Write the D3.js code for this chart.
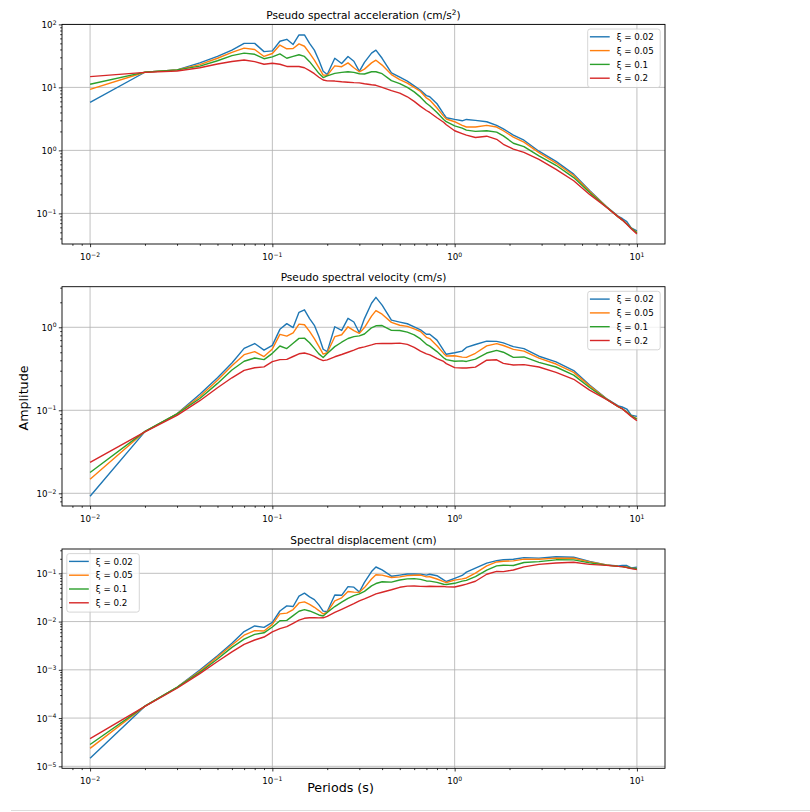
<!DOCTYPE html>
<html>
<head>
<meta charset="utf-8">
<script src="https://cdn.jsdelivr.net/npm/d3@7"></script>
<style>
  body { margin: 0; background: #fff; }
  text { font-family: "DejaVu Sans", sans-serif; fill: #000; }
</style>
</head>
<body>
<script>
// ---------------- DATA ----------------
const periods = [0.01,0.02,0.03,0.04,0.05,0.06,0.07,0.08,0.09,0.10,
  0.11,0.12,0.13,0.14,0.15,0.16,0.17,0.18,0.19,0.20,
  0.22,0.24,0.26,0.28,0.30,
  0.32,0.35,0.37,0.40,0.45,
  0.50,0.55,0.60,0.65,0.70,0.73,0.80,0.87,0.90,1.0,
  1.1,1.16,1.3,1.5,1.7,1.85,2.1,2.4,2.9,3.6,
  4.5,5.5,6.8,7.9,8.3,8.8,9.3,10];

const dampingLabels = ["ξ = 0.02", "ξ = 0.05", "ξ = 0.1", "ξ = 0.2"];
const seriesColors = ["#1f77b4", "#ff7f0e", "#2ca02c", "#d62728"];

// Pseudo spectral acceleration (cm/s^2)
const psa002 = [5.8,17.4,19.0,24.5,31,39,50,50,37,38,
  54,58,48,68,68,50,39,27,18,16,
  29,24,31,26,18,
  25,35,39,29,17,
  14.5,12.6,10.6,9.0,7.4,7.1,5.5,3.8,3.3,3.1,
  2.95,3.1,3.0,2.85,2.5,2.2,1.75,1.45,0.97,0.67,
  0.42,0.23,0.128,0.090,0.083,0.074,0.059,0.053];
const psa005 = [9.3,17.4,19.0,23.0,29,36,42,40,31,34.5,
  47,41,41.5,49,45,35,27,20.6,15.7,15.5,
  22,21.3,24.5,20.5,17.7,
  19.5,24.5,27,22.6,16,
  13.3,11.7,10.0,8.6,6.8,6.3,4.7,3.5,3.15,2.85,
  2.5,2.35,2.35,2.5,2.35,2.05,1.62,1.35,0.92,0.63,
  0.40,0.225,0.127,0.088,0.079,0.068,0.058,0.050];
const psa01 = [11.2,17.5,19.0,21.8,26.5,32,35,33.5,28.5,30.5,
  34,29,31,33,31,25.6,20.6,16.7,14.3,15.2,
  16.7,17.3,17.7,17.3,16.5,
  16.3,17.7,17.7,16.5,12.8,
  11.5,10.0,8.5,7.0,5.6,5.1,4.0,3.1,2.85,2.45,
  2.25,2.1,2.0,2.05,1.95,1.7,1.3,1.15,0.82,0.58,
  0.37,0.215,0.126,0.088,0.079,0.068,0.058,0.049];
const psa02 = [14.8,17.3,18.2,20.5,23.5,25.8,27.2,25.6,23.3,24.2,
  23.3,21.5,21.5,21.5,20.5,18.5,16.5,14.5,13.1,12.7,
  12.6,12.3,12.1,11.9,11.8,
  11.4,11.0,10.8,10.0,8.9,
  8.1,7.1,6.0,5.0,4.3,4.0,3.3,2.8,2.55,2.05,
  1.85,1.75,1.6,1.68,1.5,1.25,1.05,0.93,0.72,0.50,
  0.33,0.20,0.125,0.088,0.079,0.067,0.057,0.047];

// Pseudo spectral velocity (cm/s)
const psv002 = [0.00923,0.0554,0.0907,0.156,0.247,0.372,0.557,0.637,0.530,0.605,
  0.945,1.108,0.993,1.515,1.623,1.273,1.055,0.774,0.544,0.509,
  1.015,0.917,1.283,1.159,0.859,
  1.273,1.950,2.297,1.846,1.218,
  1.154,1.103,1.012,0.931,0.824,0.825,0.700,0.526,0.473,0.493,
  0.516,0.572,0.621,0.680,0.676,0.648,0.585,0.554,0.448,0.384,
  0.301,0.201,0.1385,0.1132,0.1096,0.1036,0.0873,0.0844];
const psv005 = [0.0148,0.0554,0.0907,0.1464,0.2308,0.3438,0.4679,0.5093,0.4440,0.5491,
  0.8228,0.7831,0.8586,1.0918,1.0743,0.8913,0.7305,0.5902,0.4748,0.4934,
  0.7703,0.8136,1.0138,0.9135,0.8451,
  0.9931,1.3648,1.5900,1.4388,1.1459,
  1.0584,1.0242,0.9549,0.8897,0.7576,0.7319,0.5984,0.4846,0.4512,0.4536,
  0.4377,0.4339,0.4862,0.5968,0.6358,0.6036,0.5415,0.5157,0.4246,0.3610,
  0.2865,0.1970,0.1375,0.1106,0.1044,0.0952,0.0859,0.0796];
const psv01 = [0.01783,0.0557,0.0907,0.1388,0.2109,0.3056,0.3899,0.4265,0.4082,0.4854,
  0.5952,0.5539,0.6414,0.7353,0.7401,0.6519,0.5574,0.4784,0.4324,0.4838,
  0.5847,0.6608,0.7324,0.7709,0.7878,
  0.8302,0.9860,1.0423,1.0504,0.9167,
  0.9151,0.8754,0.8117,0.7242,0.6239,0.5925,0.5093,0.4292,0.4082,0.3899,
  0.3939,0.3877,0.4138,0.4894,0.5276,0.5005,0.4345,0.4393,0.3785,0.3323,
  0.2650,0.1882,0.1364,0.1106,0.1044,0.0952,0.0859,0.0780];
const psv02 = [0.02355,0.05507,0.0869,0.1305,0.1870,0.2464,0.3030,0.3259,0.3338,0.3851,
  0.4079,0.4106,0.4448,0.4791,0.4894,0.4711,0.4464,0.4154,0.3961,0.4043,
  0.4412,0.4698,0.5007,0.5303,0.5634,
  0.5806,0.6127,0.6360,0.6366,0.6374,
  0.6446,0.6215,0.5730,0.5173,0.4791,0.4647,0.4202,0.3877,0.3653,0.3263,
  0.3239,0.3231,0.3310,0.4011,0.4058,0.3680,0.3509,0.3552,0.3323,0.2865,
  0.2364,0.1751,0.1353,0.1106,0.1044,0.0938,0.0844,0.0748];

// Spectral displacement (cm)
const sd002 = [1.47e-5,1.76e-4,4.33e-4,9.93e-4,1.96e-3,3.56e-3,6.21e-3,8.11e-3,7.59e-3,9.63e-3,
  0.01655,0.02116,0.02055,0.03376,0.03876,0.03242,0.02855,0.02216,0.01646,0.01621,
  0.03555,0.03502,0.05308,0.05163,0.04103,
  0.06485,0.1086,0.1352,0.1175,0.0872,
  0.0918,0.0966,0.0967,0.0963,0.0918,0.0958,0.0892,0.0729,0.0677,0.0785,
  0.0904,0.1057,0.1284,0.1624,0.1830,0.1907,0.1955,0.2116,0.2066,0.2200,
  0.2154,0.1762,0.1499,0.1423,0.1448,0.1451,0.1292,0.1342];
const sd005 = [2.36e-5,1.76e-4,4.33e-4,9.32e-4,1.84e-3,3.28e-3,5.21e-3,6.48e-3,6.36e-3,8.74e-3,
  0.01441,0.01496,0.01777,0.02433,0.02565,0.02270,0.01977,0.01691,0.01436,0.01571,
  0.02697,0.03108,0.04195,0.04071,0.04035,
  0.05058,0.07602,0.09363,0.09159,0.08207,
  0.08422,0.08965,0.09119,0.09204,0.08440,0.08504,0.07619,0.06710,0.06463,0.07219,
  0.07663,0.08010,0.1006,0.1425,0.1720,0.1777,0.1810,0.1970,0.1960,0.2068,
  0.2052,0.1724,0.1488,0.1391,0.1379,0.1334,0.1271,0.1267];
const sd01 = [2.84e-5,1.77e-4,4.33e-4,8.84e-4,1.68e-3,2.92e-3,4.34e-3,5.43e-3,5.85e-3,7.73e-3,
  0.01042,0.01058,0.01327,0.01638,0.01767,0.01660,0.01508,0.01371,0.01308,0.01540,
  0.02047,0.02524,0.03031,0.03436,0.03762,
  0.04228,0.05492,0.06138,0.06687,0.06566,
  0.07282,0.07662,0.07751,0.07491,0.06951,0.06884,0.06484,0.05943,0.05848,0.06206,
  0.06896,0.07158,0.08562,0.1168,0.1427,0.1474,0.1452,0.1678,0.1747,0.1904,
  0.1898,0.1647,0.1476,0.1391,0.1379,0.1334,0.1271,0.1241];
const sd02 = [3.75e-5,1.75e-4,4.15e-4,8.31e-4,1.49e-3,2.35e-3,3.38e-3,4.15e-3,4.78e-3,6.13e-3,
  7.14e-3,7.84e-3,9.20e-3,0.01067,0.01168,0.01200,0.01208,0.01190,0.01198,0.01287,
  0.01545,0.01795,0.02072,0.02363,0.02690,
  0.02957,0.03413,0.03745,0.04053,0.04565,
  0.05129,0.05440,0.05471,0.05351,0.05337,0.05399,0.05350,0.05368,0.05232,0.05192,
  0.05670,0.05965,0.06849,0.09575,0.1098,0.1084,0.1173,0.1357,0.1534,0.1641,
  0.1693,0.1532,0.1464,0.1391,0.1379,0.1314,0.1249,0.1190];

// tick values (decades)
const xTickValues = [0.01, 0.1, 1, 10];
const yTickValues1 = [0.1, 1, 10, 100];
const yTickValues2 = [0.01, 0.1, 1];
const yTickValues3 = [1e-5, 1e-4, 1e-3, 1e-2, 1e-1];

const titles = ["Pseudo spectral acceleration (cm/s", "Pseudo spectral velocity (cm/s)", "Spectral displacement (cm)"];
const yLabelText = "Amplitude";
const xLabelText = "Periods (s)";

// ---------------- LAYOUT ----------------
const W = 810, H = 812;
const L = 62, R = 665;
const panels = [
  { title: titles[0], sup: "2", top: 24.4, bottom: 244, ydom: [Math.pow(10,-1.486), 100], yticks: yTickValues1,
    series: [psa002, psa005, psa01, psa02], legend: "right" },
  { title: titles[1], top: 286.7, bottom: 506, ydom: [Math.pow(10,-2.153), Math.pow(10,0.489)], yticks: yTickValues2,
    series: [psv002, psv005, psv01, psv02], legend: "right" },
  { title: titles[2], top: 549, bottom: 768.3, ydom: [Math.pow(10,-5.041), Math.pow(10,-0.496)], yticks: yTickValues3,
    series: [sd002, sd005, sd01, sd02], legend: "left" }
];

const svg = d3.select("body").append("svg").attr("width", W).attr("height", H);
svg.append("rect").attr("width", W).attr("height", H).attr("fill", "#fff");

const x = d3.scaleLog().domain([Math.pow(10,-2.154), Math.pow(10,1.154)]).range([L, R]);

function minorTicks(scale) {
  const [a, b] = scale.domain();
  const out = [];
  for (let e = Math.floor(Math.log10(a)); e <= Math.ceil(Math.log10(b)); e++) {
    for (let m = 2; m <= 9; m++) {
      const v = m * Math.pow(10, e);
      if (v >= a && v <= b) out.push(v);
    }
  }
  return out;
}
function expOf(v) { return Math.round(Math.log10(v)); }
function fmtExp(e) { return (e < 0 ? "\u2212" : "") + Math.abs(e); }

const FS = 8.7;

panels.forEach((p, pi) => {
  const y = d3.scaleLog().domain(p.ydom).range([p.bottom, p.top]);
  const g = svg.append("g");

  // grid
  const gx = g.append("g");
  xTickValues.forEach(v => {
    gx.append("line").attr("x1", x(v)).attr("x2", x(v)).attr("y1", p.top).attr("y2", p.bottom)
      .attr("stroke", "#b0b0b0").attr("stroke-width", 0.8);
  });
  p.yticks.forEach(v => {
    gx.append("line").attr("x1", L).attr("x2", R).attr("y1", y(v)).attr("y2", y(v))
      .attr("stroke", "#b0b0b0").attr("stroke-width", 0.8);
  });

  // lines
  const clipId = "clip" + pi;
  svg.append("clipPath").attr("id", clipId).append("rect")
    .attr("x", L).attr("y", p.top).attr("width", R - L).attr("height", p.bottom - p.top);
  const line = d3.line().x(d => x(d[0])).y(d => y(d[1]));
  p.series.forEach((s, si) => {
    g.append("path").datum(periods.map((t, i) => [t, s[i]]))
      .attr("d", line).attr("fill", "none").attr("stroke", seriesColors[si])
      .attr("stroke-width", 1.4).attr("stroke-linejoin", "round").attr("clip-path", `url(#${clipId})`);
  });

  // axes ticks
  const axB = g.append("g").attr("transform", `translate(0,${p.bottom})`)
    .call(d3.axisBottom(x).tickValues(xTickValues).tickSize(3.2).tickFormat(""));
  axB.select(".domain").remove();
  const axBm = g.append("g").attr("transform", `translate(0,${p.bottom})`)
    .call(d3.axisBottom(x).tickValues(minorTicks(x)).tickSize(1.8).tickFormat(""));
  axBm.select(".domain").remove();
  const axL = g.append("g").attr("transform", `translate(${L},0)`)
    .call(d3.axisLeft(y).tickValues(p.yticks).tickSize(3.2).tickFormat(""));
  axL.select(".domain").remove();
  const axLm = g.append("g").attr("transform", `translate(${L},0)`)
    .call(d3.axisLeft(y).tickValues(minorTicks(y)).tickSize(1.8).tickFormat(""));
  axLm.select(".domain").remove();
  g.selectAll(".tick line").attr("stroke", "#000").attr("stroke-width", 0.8);

  // tick labels
  xTickValues.forEach(v => {
    const t = g.append("text").attr("x", x(v)).attr("y", p.bottom + 16).attr("text-anchor", "middle")
      .attr("font-size", FS);
    t.append("tspan").text("10");
    t.append("tspan").attr("dy", -3.4).attr("font-size", FS * 0.7).text(fmtExp(expOf(v)));
  });
  p.yticks.forEach(v => {
    const t = g.append("text").attr("x", 56.5).attr("y", y(v) + 3.6).attr("text-anchor", "end")
      .attr("font-size", FS);
    t.append("tspan").text("10");
    t.append("tspan").attr("dy", -3.4).attr("font-size", FS * 0.7).text(fmtExp(expOf(v)));
  });

  // spines
  g.append("rect").attr("x", L).attr("y", p.top).attr("width", R - L).attr("height", p.bottom - p.top)
    .attr("fill", "none").attr("stroke", "#000").attr("stroke-width", 0.9);

  // title
  const tt = g.append("text").attr("x", (L + R) / 2).attr("y", p.top - 5.4)
    .attr("text-anchor", "middle").attr("font-size", 10.6);
  tt.append("tspan").text(p.title);
  if (p.sup) {
    tt.append("tspan").attr("dy", -4).attr("font-size", 10.6 * 0.7).text(p.sup);
    tt.append("tspan").attr("dy", 4).text(")");
  }

  // legend
  const lw = 72.5, lh = 58.5;
  const lx = p.legend === "right" ? R - 4.8 - lw : L + 4.8;
  const ly = p.top + 4.6;
  const lg = g.append("g");
  lg.append("rect").attr("x", lx).attr("y", ly).attr("width", lw).attr("height", lh)
    .attr("rx", 2.5).attr("fill", "#fff").attr("fill-opacity", 0.8)
    .attr("stroke", "#cccccc").attr("stroke-width", 0.8);
  dampingLabels.forEach((lab, i) => {
    const cy = ly + 7.8 + i * 13.8;
    lg.append("line").attr("x1", lx + 2.2).attr("x2", lx + 22).attr("y1", cy).attr("y2", cy)
      .attr("stroke", seriesColors[i]).attr("stroke-width", 1.4);
    lg.append("text").attr("x", lx + 29).attr("y", cy + 3.2).attr("font-size", FS).text(lab);
  });
});

// axis labels
svg.append("text").attr("transform", "translate(27.5,398) rotate(-90)")
  .attr("text-anchor", "middle").attr("font-size", 12.7).text(yLabelText);
svg.append("text").attr("x", 340.5).attr("y", 792).attr("text-anchor", "middle")
  .attr("font-size", 12.7).text(xLabelText);

// bottom frame line
svg.append("line").attr("x1", 11).attr("x2", W).attr("y1", 810.5).attr("y2", 810.5)
  .attr("stroke", "#dddddd").attr("stroke-width", 1);
</script>
</body>
</html>
